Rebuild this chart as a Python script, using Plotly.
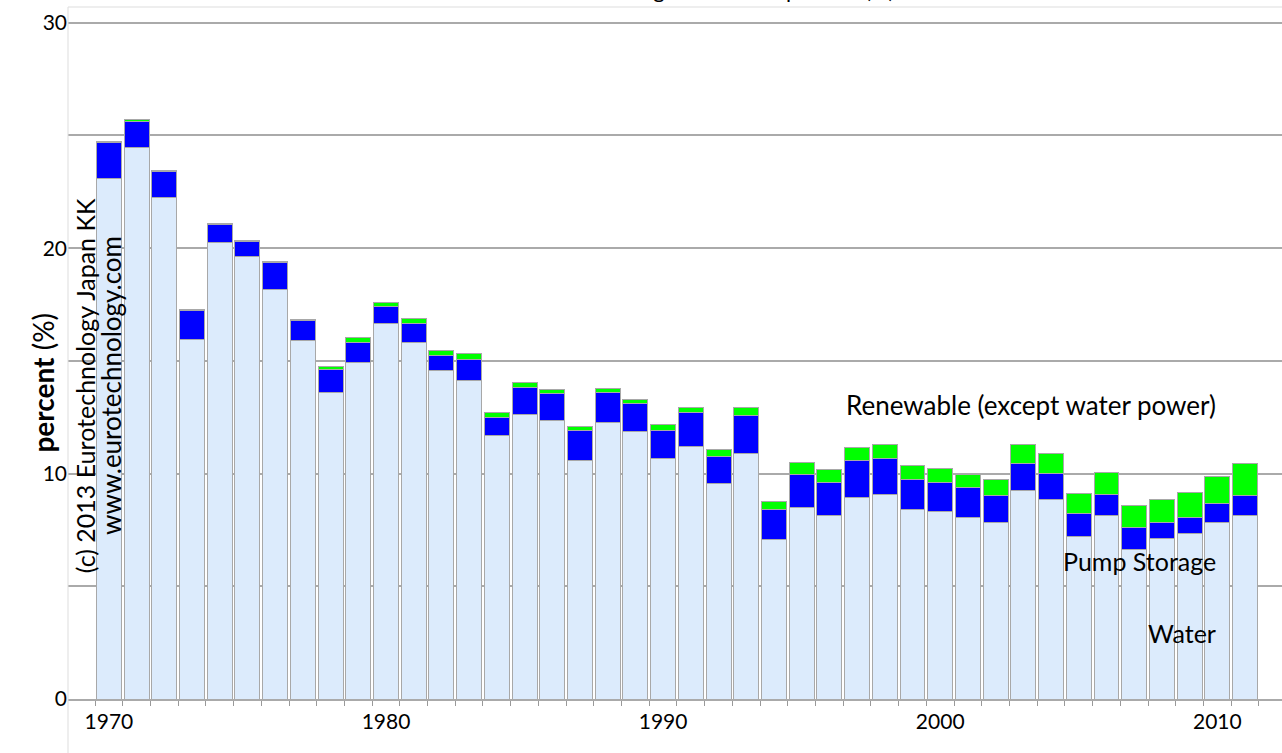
import plotly.graph_objects as go

years = list(range(1970, 2012))
water = [23.11, 24.48, 22.24, 15.97, 20.24, 19.62, 18.18, 15.90, 13.62, 14.95,
         16.64, 15.83, 14.58, 14.14, 11.67, 12.64, 12.35, 10.59, 12.28, 11.86,
         10.68, 11.18, 9.54, 10.91, 7.09, 8.49, 8.16, 8.95, 9.09, 8.39,
         8.30, 8.04, 7.82, 9.26, 8.83, 7.23, 8.12, 6.64, 7.14, 7.33,
         7.84, 8.13]
pump = [1.56, 1.16, 1.15, 1.26, 0.82, 0.67, 1.18, 0.87, 1.02, 0.87,
        0.76, 0.84, 0.68, 0.94, 0.81, 1.16, 1.20, 1.31, 1.31, 1.26,
        1.25, 1.51, 1.21, 1.68, 1.33, 1.48, 1.45, 1.61, 1.56, 1.34,
        1.31, 1.33, 1.20, 1.18, 1.17, 0.99, 0.96, 0.98, 0.70, 0.73,
        0.84, 0.89]
renew = [0.05, 0.05, 0.05, 0.05, 0.05, 0.05, 0.05, 0.08, 0.12, 0.20,
         0.20, 0.20, 0.22, 0.23, 0.21, 0.23, 0.19, 0.20, 0.19, 0.18,
         0.23, 0.23, 0.34, 0.33, 0.33, 0.51, 0.58, 0.61, 0.62, 0.61,
         0.63, 0.61, 0.74, 0.86, 0.88, 0.89, 0.95, 0.96, 1.02, 1.09,
         1.21, 1.41]
tick_years = [1970, 1980, 1990, 2000, 2010]
y_ticks = [0, 10, 20, 30]

FONT = "Lato"
edge = dict(color="#a8a8a8", width=1)

fig = go.Figure()
fig.add_bar(x=years, y=water, name="Water", marker=dict(color="#dcebfc", line=edge))
fig.add_bar(x=years, y=pump, name="Pump Storage", marker=dict(color="#0000ff", line=edge))
fig.add_bar(x=years, y=renew, name="Renewable", marker=dict(color="#00ff00", line=edge))

fig.update_layout(
    barmode="stack",
    bargap=0.1,
    width=1282, height=753,
    margin=dict(l=68, r=0, t=7, b=54, autoexpand=False),
    plot_bgcolor="white", paper_bgcolor="white",
    showlegend=False,
    font=dict(family=FONT, color="black"),
)
fig.update_xaxes(
    automargin=False,
    range=[1968.524, 2012.334],
    tickvals=tick_years, ticktext=[str(t) for t in tick_years],
    ticks="outside", ticklen=3, tickcolor="rgba(0,0,0,0)",
    tickfont=dict(size=21, family=FONT),
    showgrid=False, zeroline=False,
    showline=True, linecolor="#aaaaaa", linewidth=2,
    minor=dict(tick0=1969.5, dtick=1, ticks="outside", ticklen=5, tickcolor="#999999", showgrid=False),
)
fig.update_yaxes(
    automargin=False,
    range=[0, 30.7],
    tickvals=y_ticks, ticktext=[str(t) for t in y_ticks],
    tickfont=dict(size=21, family=FONT),
    showgrid=True, gridcolor="#aaaaaa", gridwidth=2,
    minor=dict(dtick=5, tick0=0, showgrid=True, gridcolor="#aaaaaa", gridwidth=2),
    zeroline=False, showline=False, ticks="",
)

shapes = [
    dict(type="line", xref="paper", yref="paper", x0=0, x1=0, y0=-0.2, y1=1,
         line=dict(color="#dddddd", width=1)),
    dict(type="line", xref="paper", yref="paper", x0=0, x1=1, y0=1, y1=1,
         line=dict(color="#dddddd", width=1)),
]
fig.update_layout(shapes=shapes)

ann = [
    dict(text="Water and renewable share of total generation in percent (%)",
         xref="paper", yref="paper", x=0.682, y=1, xanchor="right", yanchor="bottom",
         yshift=2, showarrow=False, font=dict(size=22)),
    dict(text="<b>percent</b> (%)", xref="paper", yref="y", x=-0.037, y=14.04,
         textangle=-90, showarrow=False, font=dict(size=28)),
    dict(text="(c) 2013 Eurotechnology Japan KK", xref="x", yref="y", x=1969.12, y=13.9,
         textangle=-90, showarrow=False, font=dict(size=25)),
    dict(text="www.eurotechnology.com", xref="x", yref="y", x=1970.05, y=13.9,
         textangle=-90, showarrow=False, font=dict(size=26)),
    dict(text="Renewable (except water power)", xref="x", yref="y", x=2010.02, y=13.04,
         xanchor="right", showarrow=False, font=dict(size=26)),
    dict(text="Pump Storage", xref="x", yref="y", x=2010.02, y=6.12,
         xanchor="right", showarrow=False, font=dict(size=25)),
    dict(text="Water", xref="x", yref="y", x=2010.02, y=2.95,
         xanchor="right", showarrow=False, font=dict(size=25)),
]
fig.update_layout(annotations=ann)

fig.write_html(
    "out.html",
    config={"displayModeBar": False},
    post_script="document.body.style.margin='0';document.body.style.overflow='hidden';",
)
